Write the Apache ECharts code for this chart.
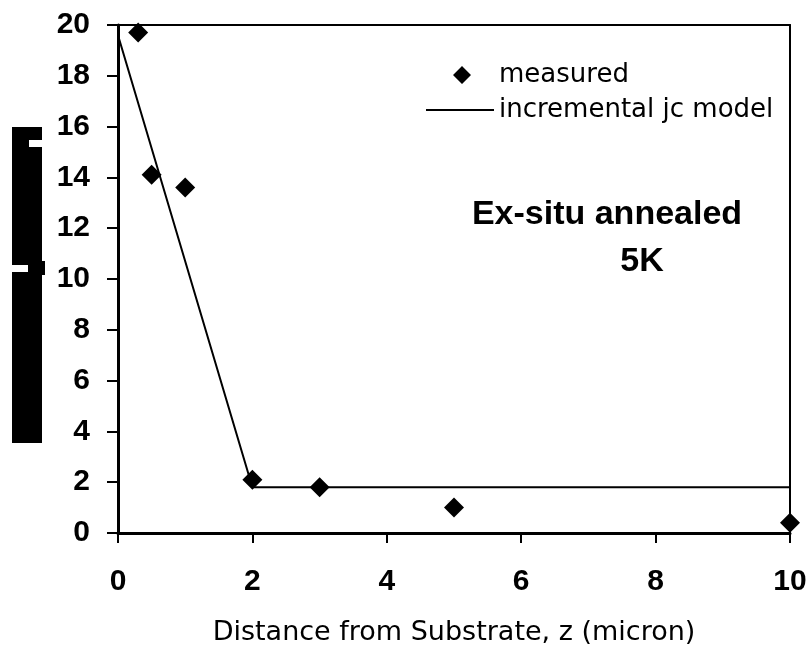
<!DOCTYPE html>
<html>
<head>
<meta charset="utf-8">
<script src="https://cdn.jsdelivr.net/npm/echarts@6/dist/echarts.min.js"></script>
<style>
  html, body { margin: 0; padding: 0; background: #fff; }
  #chart { width: 810px; height: 647px; }
</style>
</head>
<body>
<div id="chart"></div>
<script>
// Data
const measuredX = [0.3, 0.5, 1.0, 2.0, 3.0, 5.0, 10.0];
const measuredY = [19.7, 14.1, 13.6, 2.1, 1.8, 1.0, 0.4];
const modelX = [0, 2, 10];
const modelY = [19.6, 1.8, 1.8];
const seriesNames = ['measured', 'incremental jc model'];
const xTitle = 'Distance from Substrate, z (micron)';
const noteLine1 = 'Ex-situ annealed';
const noteLine2 = '5K';

const chart = echarts.init(document.getElementById('chart'), null, { renderer: 'canvas' });

const tickFont = { fontFamily: '"Liberation Sans", Arial, sans-serif', fontWeight: 'bold', fontSize: 30, color: '#000' };

const option = {
  backgroundColor: '#fff',
  animation: false,
  grid: { left: 118, right: 20, top: 25, bottom: 114, containLabel: false, outerBoundsMode: 'none' },
  legend: {
    orient: 'vertical',
    left: 421,
    top: 57,
    itemWidth: 68,
    itemHeight: 18,
    itemGap: 9,
    textStyle: { fontFamily: '"DejaVu Sans", sans-serif', fontSize: 26, color: '#000' },
    data: [
      { name: seriesNames[0], icon: 'path://M0,9L0.01,9M68,9L67.99,9M36,0L45,9L36,18L27,9Z', itemStyle: { color: '#000', opacity: 1 } },
      { name: seriesNames[1], icon: 'path://M0,0L68,0L68,2L0,2Z', itemStyle: { color: '#000' } }
    ]
  },
  xAxis: [
    {
      type: 'value', min: 0, max: 10, interval: 2,
      axisLine: { lineStyle: { color: '#000', width: 3 } },
      axisTick: { inside: false, length: 10, lineStyle: { color: '#000', width: 2 } },
      axisLabel: Object.assign({ margin: 34 }, tickFont),
      splitLine: { show: false },
      name: xTitle,
      nameLocation: 'middle',
      nameGap: 100,
      nameTextStyle: { fontFamily: '"DejaVu Sans", sans-serif', fontSize: 27, color: '#000', verticalAlign: 'middle' }
    },
    {
      type: 'value', min: 0, max: 10, position: 'top',
      axisLine: { show: true, onZero: false, lineStyle: { color: '#000', width: 2 } },
      axisTick: { show: false }, axisLabel: { show: false }, splitLine: { show: false }
    }
  ],
  yAxis: [
    {
      type: 'value', min: 0, max: 20, interval: 2,
      axisLine: { lineStyle: { color: '#000', width: 3 } },
      axisTick: { inside: false, length: 11, lineStyle: { color: '#000', width: 2 } },
      axisLabel: Object.assign({ margin: 28 }, tickFont),
      splitLine: { show: false }
    },
    {
      type: 'value', min: 0, max: 20, position: 'right',
      axisLine: { show: true, onZero: false, lineStyle: { color: '#000', width: 2 } },
      axisTick: { show: false }, axisLabel: { show: false }, splitLine: { show: false }
    }
  ],
  series: [
    {
      name: seriesNames[0],
      type: 'scatter',
      symbol: 'diamond',
      symbolSize: 20,
      itemStyle: { color: '#000', opacity: 1 },
      data: measuredX.map((x, i) => [x, measuredY[i]]),
      z: 3
    },
    {
      name: seriesNames[1],
      type: 'line',
      symbol: 'none',
      lineStyle: { color: '#000', width: 2 },
      itemStyle: { color: '#000' },
      data: modelX.map((x, i) => [x, modelY[i]]),
      z: 2
    }
  ],
  graphic: [
    { type: 'rect', shape: { x: 12, y: 127, width: 30, height: 316 }, style: { fill: '#000' } },
    { type: 'rect', shape: { x: 29, y: 140, width: 13, height: 7 }, style: { fill: '#fff' } },
    { type: 'rect', shape: { x: 12, y: 265, width: 16, height: 7 }, style: { fill: '#fff' } },
    { type: 'rect', shape: { x: 42, y: 261, width: 3, height: 14 }, style: { fill: '#000' } },
    {
      type: 'text', x: 607, y: 215,
      style: { text: noteLine1, fill: '#000', font: 'bold 34px "Liberation Sans", Arial, sans-serif', align: 'center', verticalAlign: 'middle' }
    },
    {
      type: 'text', x: 642, y: 262,
      style: { text: noteLine2, fill: '#000', font: 'bold 34px "Liberation Sans", Arial, sans-serif', align: 'center', verticalAlign: 'middle' }
    }
  ]
};

chart.setOption(option);
</script>
</body>
</html>
